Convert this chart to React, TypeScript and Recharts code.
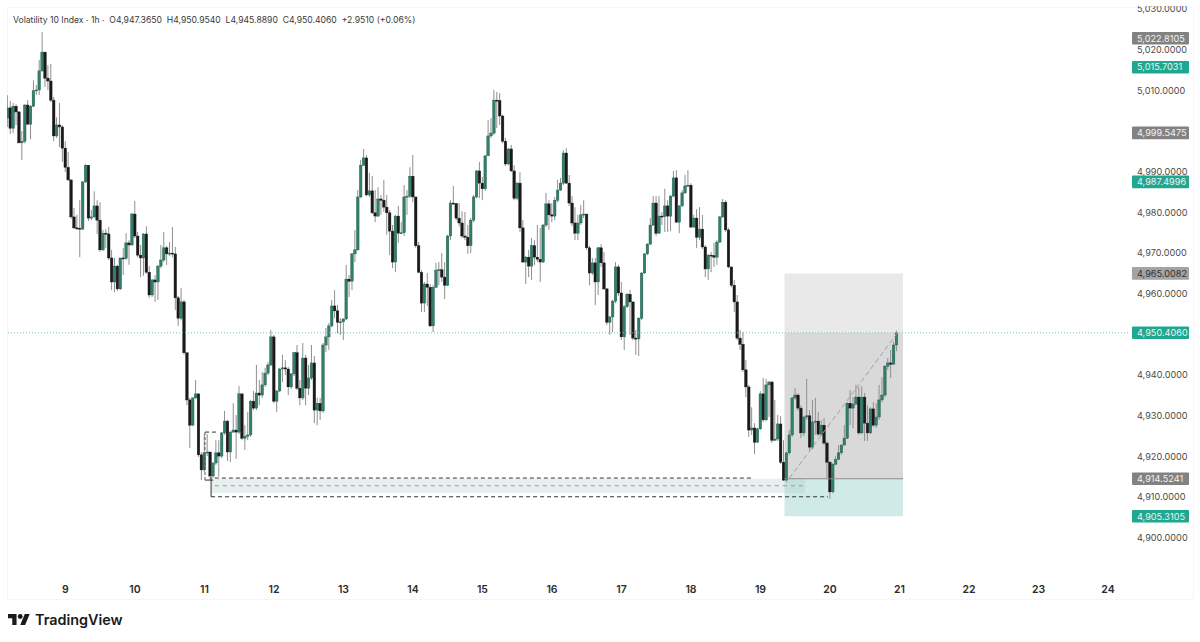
import { Bar, ComposedChart, ReferenceArea, ReferenceLine, XAxis, YAxis } from "recharts";

const firstOpen = 5003.2;

const closes = [
  5005.7, 5000.7, 5006.1, 5004.7, 4997.1, 4997.5, 5006.4, 5001.7, 5006.1, 5009.9, 5010.1, 5014.8, 5019.4, 5013.0, 5012.3, 5007.6, 4998.8, 5001.5, 5001.0, 4995.8,
  4991.1, 4988.0, 4978.9, 4976.2, 4976.1, 4975.9, 4987.5, 4991.6, 4978.6, 4978.9, 4981.6, 4978.1, 4970.8, 4974.9, 4974.7, 4968.8, 4962.9, 4966.8, 4961.2, 4968.8,
  4968.7, 4972.5, 4972.0, 4979.6, 4974.2, 4969.5, 4968.8, 4974.7, 4965.3, 4959.7, 4963.4, 4962.9, 4966.8, 4968.3, 4971.3, 4969.8, 4970.0, 4969.8, 4959.0, 4954.0,
  4958.0, 4945.5, 4933.9, 4927.7, 4934.4, 4935.4, 4920.4, 4916.7, 4920.9, 4921.1, 4915.2, 4918.4, 4920.9, 4920.1, 4925.8, 4928.7, 4921.1, 4926.0, 4926.5, 4926.0,
  4935.4, 4924.5, 4925.0, 4925.3, 4933.6, 4931.9, 4935.6, 4935.1, 4937.6, 4940.5, 4942.5, 4949.4, 4933.6, 4936.1, 4941.5, 4941.8, 4941.5, 4937.1, 4940.3, 4945.5,
  4936.8, 4934.4, 4944.2, 4936.8, 4939.3, 4943.0, 4931.4, 4933.1, 4931.2, 4947.4, 4949.4, 4952.1, 4957.0, 4955.8, 4953.0, 4953.1, 4953.8, 4963.6, 4963.1, 4969.8,
  4970.8, 4983.8, 4991.6, 4993.4, 4984.3, 4985.3, 4979.9, 4979.1, 4983.3, 4983.0, 4981.3, 4979.9, 4975.4, 4967.8, 4979.1, 4974.9, 4975.0, 4983.8, 4984.0, 4988.9,
  4983.8, 4971.8, 4965.3, 4957.7, 4962.4, 4961.6, 4952.1, 4961.6, 4965.8, 4965.9, 4964.1, 4962.1, 4974.2, 4982.3, 4982.2, 4978.6, 4977.4, 4974.2, 4973.9, 4971.8,
  4978.1, 4983.8, 4990.2, 4987.2, 4985.8, 4993.9, 4998.8, 4999.5, 5007.6, 5007.5, 5003.7, 4997.5, 4991.9, 4995.6, 4990.2, 4983.5, 4987.2, 4976.2, 4967.8, 4969.0,
  4966.8, 4971.8, 4969.0, 4968.5, 4967.8, 4976.9, 4982.1, 4979.4, 4979.1, 4983.0, 4985.5, 4987.2, 4994.6, 4987.2, 4982.3, 4977.4, 4974.9, 4977.4, 4979.4, 4979.6,
  4971.3, 4965.1, 4967.6, 4962.9, 4971.3, 4967.6, 4961.2, 4953.0, 4954.3, 4958.2, 4966.6, 4960.2, 4949.4, 4956.8, 4959.9, 4958.0, 4949.1, 4948.9, 4954.0, 4965.1,
  4969.8, 4972.2, 4976.9, 4982.3, 4974.9, 4979.1, 4979.0, 4981.6, 4979.1, 4984.0, 4988.5, 4977.6, 4981.6, 4984.8, 4986.5, 4986.7, 4976.4, 4978.6, 4973.9, 4975.9,
  4971.5, 4966.1, 4969.5, 4969.4, 4969.0, 4972.7, 4978.9, 4982.5, 4975.7, 4966.6, 4962.1, 4958.0, 4949.1, 4947.6, 4941.3, 4937.1, 4926.5, 4927.0, 4923.5, 4926.8,
  4935.4, 4929.0, 4937.6, 4938.3, 4924.0, 4924.3, 4928.0, 4918.6, 4914.2, 4920.9, 4925.3, 4934.4, 4935.1, 4931.9, 4925.8, 4929.7, 4930.0, 4922.3, 4928.5, 4928.7,
  4925.5, 4927.7, 4923.3, 4918.6, 4911.3, 4918.1, 4919.3, 4920.9, 4922.8, 4924.5, 4933.1, 4931.9, 4932.9, 4934.6, 4925.8, 4934.6, 4928.2, 4925.8, 4931.7, 4927.7,
  4929.7, 4933.9, 4935.1, 4942.2, 4943.0, 4942.7, 4947.4, 4950.406,
];

const highs = [
  5008.8, 5007.4, 5006.9, 5006.6, 5004.9, 5000.0, 5006.6, 5007.6, 5006.4, 5012.5, 5011.3, 5017.5, 5024.3, 5019.4, 5016.2, 5016.5, 5008.4, 5003.4, 5006.9, 5001.5,
  4997.5, 4994.8, 4988.0, 4981.1, 4979.4, 4983.0, 4987.7, 4991.9, 4991.6, 4980.6, 4985.2, 4983.0, 4982.5, 4975.7, 4975.9, 4976.4, 4970.8, 4968.8, 4967.1, 4968.8,
  4971.3, 4974.9, 4973.2, 4979.9, 4982.8, 4975.2, 4972.0, 4974.9, 4976.6, 4966.8, 4963.6, 4964.6, 4967.1, 4972.0, 4975.2, 4971.8, 4972.7, 4976.4, 4971.5, 4959.5,
  4961.4, 4958.5, 4945.5, 4934.4, 4934.6, 4938.8, 4935.4, 4921.1, 4925.5, 4925.5, 4921.1, 4918.6, 4924.0, 4924.0, 4926.0, 4931.2, 4929.0, 4926.3, 4933.1, 4930.2,
  4937.3, 4935.4, 4927.7, 4930.9, 4933.9, 4936.1, 4942.5, 4938.8, 4940.8, 4941.8, 4943.2, 4951.1, 4949.9, 4936.3, 4941.8, 4945.0, 4943.7, 4942.0, 4940.5, 4945.7,
  4947.4, 4938.8, 4947.9, 4945.0, 4942.5, 4947.4, 4944.7, 4934.4, 4934.4, 4947.9, 4951.6, 4952.8, 4958.5, 4960.9, 4957.2, 4954.0, 4954.0, 4967.1, 4964.6, 4970.0,
  4975.7, 4985.5, 4992.9, 4995.6, 4994.1, 4989.7, 4988.9, 4985.5, 4986.2, 4984.3, 4988.0, 4984.3, 4980.6, 4976.9, 4979.4, 4981.6, 4977.6, 4986.7, 4985.5, 4991.1,
  4994.1, 4983.8, 4972.7, 4965.8, 4962.9, 4965.1, 4962.4, 4962.1, 4967.6, 4967.8, 4970.0, 4967.8, 4974.5, 4983.0, 4986.5, 4982.3, 4982.3, 4980.3, 4980.1, 4976.9,
  4978.6, 4984.3, 4990.4, 4992.4, 4988.7, 4994.1, 5002.7, 5003.2, 5010.1, 5009.6, 5009.3, 5004.0, 4998.3, 4995.8, 4996.6, 4991.6, 4987.5, 4989.9, 4978.1, 4969.3,
  4970.8, 4973.7, 4973.2, 4976.9, 4976.2, 4977.1, 4984.8, 4983.0, 4982.3, 4983.8, 4988.0, 4988.5, 4995.3, 4995.8, 4989.2, 4984.0, 4981.3, 4979.4, 4981.8, 4983.0,
  4979.6, 4971.8, 4968.8, 4968.8, 4971.5, 4972.2, 4970.3, 4961.4, 4954.5, 4958.5, 4967.8, 4967.1, 4962.9, 4957.2, 4960.2, 4960.9, 4958.0, 4951.1, 4954.3, 4965.3,
  4970.0, 4972.5, 4978.6, 4984.0, 4984.0, 4984.0, 4980.1, 4985.8, 4983.0, 4984.3, 4990.2, 4990.4, 4981.8, 4985.5, 4989.2, 4990.4, 4987.2, 4979.4, 4980.8, 4981.3,
  4979.4, 4972.0, 4969.8, 4970.3, 4972.5, 4973.2, 4979.1, 4983.3, 4983.0, 4976.2, 4966.6, 4963.4, 4959.7, 4951.1, 4950.6, 4943.7, 4937.6, 4932.1, 4928.2, 4927.0,
  4936.1, 4939.3, 4939.1, 4938.6, 4938.6, 4933.9, 4930.2, 4929.9, 4924.0, 4921.1, 4926.5, 4934.6, 4936.8, 4935.6, 4932.6, 4929.9, 4939.1, 4931.4, 4933.9, 4934.4,
  4930.9, 4929.0, 4929.5, 4923.8, 4918.9, 4918.4, 4920.1, 4922.8, 4923.0, 4927.7, 4933.4, 4936.3, 4934.6, 4937.6, 4937.1, 4937.3, 4935.6, 4932.6, 4932.1, 4933.4,
  4933.1, 4937.6, 4939.5, 4942.5, 4944.2, 4946.2, 4948.2, 4950.954,
];

const lows = [
  5001.0, 4999.3, 4999.5, 5001.5, 4997.0, 4992.9, 4997.0, 5001.5, 4998.0, 5005.9, 5008.9, 5008.9, 5014.5, 5010.8, 5010.1, 5007.1, 4997.5, 4998.3, 4996.1, 4992.4,
  4989.9, 4987.7, 4978.4, 4975.9, 4975.7, 4969.0, 4975.7, 4987.2, 4977.9, 4978.1, 4978.6, 4974.7, 4970.3, 4970.5, 4971.3, 4968.3, 4960.9, 4960.4, 4960.7, 4960.9,
  4964.6, 4968.3, 4967.1, 4971.8, 4973.7, 4969.0, 4964.1, 4964.4, 4964.9, 4959.0, 4959.2, 4958.0, 4958.5, 4966.3, 4967.8, 4967.1, 4969.3, 4969.0, 4956.0, 4952.1,
  4953.5, 4945.0, 4932.6, 4922.1, 4927.5, 4934.1, 4919.9, 4914.2, 4916.2, 4920.1, 4914.2, 4914.7, 4917.9, 4915.0, 4919.6, 4925.3, 4918.9, 4918.6, 4925.8, 4919.4,
  4925.5, 4924.0, 4921.6, 4924.0, 4924.8, 4931.4, 4931.4, 4932.6, 4934.4, 4937.1, 4940.0, 4942.2, 4933.1, 4930.9, 4935.8, 4938.3, 4940.0, 4935.1, 4936.6, 4939.8,
  4936.3, 4932.6, 4933.9, 4932.6, 4935.1, 4938.8, 4928.2, 4927.7, 4929.0, 4930.7, 4945.7, 4946.2, 4951.8, 4954.0, 4950.3, 4949.9, 4948.6, 4953.5, 4959.2, 4960.9,
  4967.8, 4970.5, 4983.5, 4991.4, 4984.0, 4983.8, 4979.6, 4977.6, 4978.9, 4979.4, 4980.1, 4974.5, 4969.5, 4966.3, 4965.3, 4972.5, 4974.7, 4974.2, 4979.4, 4983.5,
  4982.5, 4971.3, 4965.1, 4955.5, 4955.5, 4957.0, 4951.8, 4950.6, 4961.4, 4962.1, 4962.9, 4958.7, 4961.9, 4973.2, 4981.8, 4978.1, 4976.6, 4973.7, 4973.2, 4969.8,
  4970.0, 4977.6, 4983.5, 4983.5, 4983.0, 4985.3, 4997.8, 4998.3, 4999.0, 5000.7, 5001.5, 4997.0, 4991.4, 4991.6, 4989.9, 4983.0, 4983.0, 4975.2, 4967.6, 4962.4,
  4964.1, 4963.4, 4967.1, 4967.8, 4962.9, 4967.6, 4976.4, 4975.7, 4977.6, 4978.1, 4982.5, 4985.3, 4986.7, 4987.0, 4981.6, 4976.6, 4973.2, 4973.2, 4976.9, 4978.6,
  4970.8, 4962.1, 4964.6, 4957.2, 4959.7, 4966.6, 4960.9, 4952.3, 4949.9, 4950.6, 4957.7, 4959.5, 4948.6, 4946.2, 4956.5, 4949.9, 4948.6, 4945.0, 4944.7, 4953.5,
  4964.9, 4969.5, 4972.0, 4976.6, 4974.2, 4974.7, 4976.9, 4975.2, 4975.2, 4975.4, 4983.8, 4977.4, 4974.9, 4981.3, 4984.5, 4986.2, 4976.2, 4976.2, 4971.3, 4973.2,
  4971.0, 4964.1, 4963.4, 4965.3, 4966.6, 4967.1, 4972.5, 4978.6, 4975.2, 4966.3, 4961.6, 4955.5, 4948.6, 4946.2, 4940.8, 4934.6, 4924.8, 4925.3, 4920.6, 4923.3,
  4926.5, 4928.5, 4928.7, 4929.7, 4923.3, 4923.8, 4923.8, 4918.1, 4914.0, 4913.7, 4920.4, 4924.8, 4933.9, 4931.2, 4924.5, 4925.0, 4929.0, 4921.6, 4921.8, 4925.3,
  4925.0, 4925.0, 4922.8, 4914.7, 4909.6, 4911.0, 4917.9, 4919.1, 4920.4, 4924.0, 4924.3, 4927.7, 4927.0, 4932.6, 4925.3, 4925.5, 4923.8, 4923.8, 4925.5, 4927.3,
  4927.0, 4929.0, 4933.4, 4934.6, 4941.3, 4939.3, 4942.5, 4945.889,
];

const dayTicks = [20, 44, 68, 92, 116, 140, 164, 188, 212, 236, 260, 284, 308, 332, 356, 380];
const dayLabels = ["9", "10", "11", "12", "13", "14", "15", "16", "17", "18", "19", "20", "21", "22", "23", "24"];

const priceTicks = [5030, 5020, 5010, 4990, 4980, 4970, 4960, 4940, 4930, 4920, 4910, 4900];
const grayTags = [5022.8105, 4999.5475, 4914.5241];
const lightTags = [4965.0082];
const tealTags = [5015.7031, 4987.4996, 4950.406, 4905.3105];

const lastPrice = 4950.406;
const stopPrice = 4914.5241;
const targetPrice = 4965.0082;
const floorPrice = 4905.3105;

const rows = closes.map((close, i) => ({
  i,
  open: i === 0 ? firstOpen : closes[i - 1],
  close,
  high: highs[i],
  low: lows[i],
}));

const money = (v: number, digits: number) =>
  v.toLocaleString("en-US", { minimumFractionDigits: digits, maximumFractionDigits: digits });

function Candle(props: any) {
  const { x, y, width, height, payload } = props;
  const { open, close, high, low } = payload;
  const perUnit = height / (high - low);
  const cx = x + width / 2;
  const top = y + (high - Math.max(open, close)) * perUnit;
  const bodyH = Math.max(Math.abs(open - close) * perUnit, 1);
  const up = close >= open;
  return (
    <g>
      <line x1={cx} x2={cx} y1={y} y2={y + height} stroke="#8f8f8f" strokeWidth={1} />
      <rect
        x={cx - 1.3}
        y={top}
        width={2.6}
        height={bodyH}
        fill={up ? "#2f7f6c" : "#1a1a1a"}
        stroke={up ? "#24594d" : "#1a1a1a"}
        strokeWidth={0.4}
      />
    </g>
  );
}

function PriceTick(props: any) {
  const { x, y, payload } = props;
  const v = payload.value;
  const isTeal = tealTags.includes(v);
  const isGray = grayTags.includes(v);
  const isLight = lightTags.includes(v);
  const tagged = isTeal || isGray || isLight;
  const bg = isTeal ? "#1fa88f" : isLight ? "#a3a3a3" : "#828282";
  return (
    <g>
      {tagged && <rect x={x - 4} y={y - 6.3} width={57} height={12.6} rx={1} fill={bg} />}
      <text
        x={x + 1}
        y={y + 3.3}
        fontFamily="Inter, sans-serif"
        fontSize={9.1}
        letterSpacing={0.03}
        fill={isLight ? "#333333" : tagged ? "#f2f2f2" : "#4a4a4a"}
      >
        {money(v, 4)}
      </text>
    </g>
  );
}

const dash = { stroke: "#333333", strokeWidth: 1, strokeDasharray: "4 3" };

export default function App() {
  return (
    <div style={{ position: "absolute", left: 0, top: 0, width: 1200, height: 642, background: "#fff", overflow: "hidden" }}>
      <div style={{ position: "absolute", left: 7, top: 7, width: 1185, height: 591, border: "1px solid #f6f6f6" }} />
      <ComposedChart
        width={1200}
        height={642}
        data={rows}
        margin={{ top: 8, right: 0, left: 7, bottom: 44 }}
        style={{ position: "absolute", left: 0, top: 0 }}
      >
        <XAxis
          dataKey="i"
          type="number"
          domain={[-0.17, 386.9]}
          allowDataOverflow
          ticks={dayTicks}
          interval={0}
          height={20}
          axisLine={false}
          tickLine={false}
          tickMargin={2}
          tick={{ fontFamily: "Inter, sans-serif", fontSize: 10.5, fontWeight: 600, fill: "#2b2b2b" }}
          tickFormatter={(v: number) => dayLabels[dayTicks.indexOf(v)]}
        />
        <YAxis
          orientation="right"
          type="number"
          domain={[4890.13, 5030.25]}
          allowDataOverflow
          ticks={[...priceTicks, ...grayTags, ...lightTags, ...tealTags]}
          interval={0}
          width={72}
          axisLine={false}
          tickLine={false}
          tick={<PriceTick />}
        />

        <ReferenceArea x1={268.3} x2={309.2} y1={lastPrice} y2={targetPrice} fill="#e9e9e9" fillOpacity={1} stroke="none" />
        <ReferenceArea x1={268.3} x2={309.2} y1={stopPrice} y2={lastPrice} fill="#d9d9d9" fillOpacity={1} stroke="none" />
        <ReferenceArea x1={268.3} x2={309.2} y1={floorPrice} y2={stopPrice} fill="#d0ebe7" fillOpacity={1} stroke="none" />
        <ReferenceArea x1={70.3} x2={275.4} y1={4911} y2={4914.5} fill="#a9c9c6" fillOpacity={0.28} stroke="none" />

        <ReferenceLine y={lastPrice} stroke="#7cc4b7" strokeDasharray="1 2" strokeWidth={1} />
        <ReferenceLine segment={[{ x: 268.3, y: stopPrice }, { x: 309.2, y: stopPrice }]} stroke="#8a8a8a" strokeWidth={1} />
        <ReferenceLine segment={[{ x: 71.6, y: 4914.7 }, { x: 257, y: 4914.7 }]} {...dash} />
        <ReferenceLine segment={[{ x: 71.6, y: 4912.8 }, { x: 275.4, y: 4912.8 }]} stroke="#9a9a9a" strokeWidth={1} strokeDasharray="4 4" />
        <ReferenceLine segment={[{ x: 70.3, y: 4910.1 }, { x: 283.3, y: 4910.1 }]} {...dash} />
        <ReferenceLine segment={[{ x: 70.3, y: 4910.1 }, { x: 70.3, y: 4915 }]} stroke="#333333" strokeWidth={1} />
        <ReferenceLine segment={[{ x: 68.2, y: 4926 }, { x: 72.3, y: 4926 }]} {...dash} />
        <ReferenceLine segment={[{ x: 68.2, y: 4926 }, { x: 68.2, y: 4914.2 }]} stroke="#555555" strokeWidth={1} strokeDasharray="3 2" />
        <ReferenceLine segment={[{ x: 68.2, y: 4914.2 }, { x: 71, y: 4914.2 }]} stroke="#333333" strokeWidth={1} />
        <ReferenceLine segment={[{ x: 270, y: 4914.7 }, { x: 307, y: 4950.1 }]} stroke="#a0a0a0" strokeWidth={1} strokeDasharray="5 3" />

        <Bar dataKey={(d: any) => [d.low, d.high]} barSize={3} shape={<Candle />} isAnimationActive={false} />
      </ComposedChart>

      <div style={{ position: "absolute", left: 1100, top: 0, width: 100, height: 6, background: "#fff" }} />

      <div
        style={{
          position: "absolute",
          left: 13,
          top: 14,
          fontFamily: "Inter, sans-serif",
          fontSize: 8.65,
          lineHeight: "12px",
          color: "#3a3a3a",
          whiteSpace: "pre",
        }}
      >
        {"Volatility 10 Index · 1h ·  O4,947.3650  H4,950.9540  L4,945.8890  C4,950.4060  +2.9510 (+0.06%)"}
      </div>

      <svg style={{ position: "absolute", left: 8, top: 614 }} width={22} height={11} viewBox="0 4 36 18">
        <path d="M14 22H7V11H0V4h14v18zM28 22h-8l7.5-18h8L28 22z" fill="#1a1a1a" />
        <circle cx={20} cy={8} r={4} fill="#1a1a1a" />
      </svg>
      <div
        style={{
          position: "absolute",
          left: 35,
          top: 610,
          fontFamily: "Inter, sans-serif",
          fontSize: 14.4,
          fontWeight: 600,
          lineHeight: "20px",
          color: "#1a1a1a",
        }}
      >
        TradingView
      </div>
    </div>
  );
}
